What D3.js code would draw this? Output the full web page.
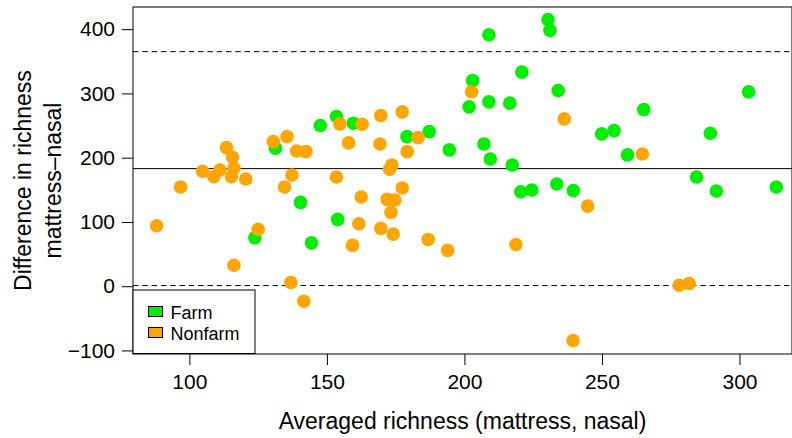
<!DOCTYPE html>
<html>
<head>
<meta charset="utf-8">
<script src="https://cdn.jsdelivr.net/npm/d3@7"></script>
<style>
  body { margin: 0; background: #fff; }
  svg { display: block; font-family: "Liberation Sans", Arial, sans-serif; }
</style>
</head>
<body>
<svg id="chart" width="792" height="438"></svg>
<script>
// values
const farmX = [230.4, 231.1, 208.9, 220.9, 203.0, 234.1, 201.7, 208.9, 216.5, 159.6, 153.5, 147.6, 131.3, 179.1, 187.2, 194.5, 207.1, 209.4, 217.4, 220.5, 224.5, 233.6, 239.6, 249.9, 254.4, 265.2, 259.3, 289.4, 303.3, 284.4, 291.6, 313.4, 140.4, 153.9, 123.8, 144.4];
const farmY = [414.8, 398.1, 391.4, 333.2, 320.1, 304.5, 279.1, 286.9, 284.9, 253.7, 264.0, 250.0, 214.7, 232.8, 240.6, 212.1, 221.4, 198.0, 188.7, 147.0, 149.7, 159.0, 148.9, 237.0, 242.2, 274.9, 204.3, 238.1, 302.5, 170.0, 148.1, 154.4, 130.5, 104.0, 75.3, 67.5];
const nonfarmX = [113.5, 115.7, 104.8, 111.1, 108.9, 116.2, 115.3, 120.5, 96.8, 130.5, 135.5, 139.0, 142.4, 137.3, 134.6, 154.7, 162.8, 157.9, 153.5, 202.6, 236.3, 169.6, 177.4, 169.3, 183.2, 179.2, 173.6, 172.8, 177.4, 264.7, 88.1, 125.0, 116.2, 136.9, 141.6, 159.3, 161.6, 162.5, 171.9, 174.7, 173.3, 169.6, 174.1, 186.8, 193.9, 218.7, 239.5, 244.8, 278.1, 281.7];
const nonfarmY = [215.7, 200.7, 178.9, 180.9, 170.4, 183.5, 170.4, 166.8, 154.4, 225.0, 232.8, 210.5, 209.4, 173.1, 154.4, 252.6, 252.1, 223.0, 170.0, 302.5, 260.4, 265.6, 271.3, 221.4, 231.2, 209.4, 188.7, 182.0, 152.8, 205.8, 94.0, 88.4, 32.7, 5.8, -23.4, 63.5, 97.1, 138.8, 135.2, 134.1, 114.9, 90.0, 81.1, 72.8, 55.7, 65.0, -84.5, 124.7, 1.6, 4.2];

const meanDiff = 183;
const limits = [1, 365];

const xTicks = [100, 150, 200, 250, 300];
const yTicks = [-100, 0, 100, 200, 300, 400];

const groups = ["Farm", "Nonfarm"];
const groupColors = ["#00ee00", "#ffa500"];

const svg = d3.select("#chart");
const plot = {left: 133, top: 7, right: 792, bottom: 354};

const x = d3.scaleLinear().domain([79.5, 319.1]).range([plot.left, plot.right]);
const y = d3.scaleLinear().domain([-105.5, 434.5]).range([plot.bottom, plot.top]);

// reference lines
svg.append("line")
    .attr("x1", plot.left).attr("x2", plot.right)
    .attr("y1", y(meanDiff)).attr("y2", y(meanDiff))
    .attr("stroke", "#000").attr("stroke-width", 1);

svg.selectAll(".limit")
    .data(limits)
    .join("line")
    .attr("class", "limit")
    .attr("x1", plot.left).attr("x2", plot.right)
    .attr("y1", d => y(d)).attr("y2", d => y(d))
    .attr("stroke", "#000").attr("stroke-width", 1)
    .attr("stroke-dasharray", "5.5,3.8");

// points: farm first, nonfarm drawn on top
const farm = farmX.map((v, i) => ({x: v, y: farmY[i]}));
const nonfarm = nonfarmX.map((v, i) => ({x: v, y: nonfarmY[i]}));

svg.append("g").selectAll("circle")
    .data(farm)
    .join("circle")
    .attr("cx", d => x(d.x))
    .attr("cy", d => y(d.y))
    .attr("r", 6.8)
    .attr("fill", groupColors[0]);

svg.append("g").selectAll("circle")
    .data(nonfarm)
    .join("circle")
    .attr("cx", d => x(d.x))
    .attr("cy", d => y(d.y))
    .attr("r", 6.8)
    .attr("fill", groupColors[1]);

// axes
const xAxis = svg.append("g")
    .attr("transform", `translate(0,${plot.bottom})`)
    .call(d3.axisBottom(x).tickValues(xTicks).tickSize(11).tickPadding(9).tickSizeOuter(0));
xAxis.select(".domain").remove();

const yAxis = svg.append("g")
    .attr("transform", `translate(${plot.left},0)`)
    .call(d3.axisLeft(y).tickValues(yTicks).tickSize(11).tickPadding(7).tickSizeOuter(0)
        .tickFormat(d => d < 0 ? "\u2212" + Math.abs(d) : d));
yAxis.select(".domain").remove();

svg.selectAll(".tick text").attr("fill", "#000").style("font-size", "21px");
svg.selectAll(".tick line").attr("stroke", "#000");

// plot box
svg.append("rect")
    .attr("x", plot.left).attr("y", plot.top)
    .attr("width", plot.right - plot.left)
    .attr("height", plot.bottom - plot.top)
    .attr("fill", "none").attr("stroke", "#000").attr("stroke-width", 1);

// axis titles
svg.append("text")
    .attr("x", (plot.left + plot.right) / 2)
    .attr("y", 429)
    .attr("text-anchor", "middle")
    .style("font-size", "23px")
    .text("Averaged richness (mattress, nasal)");

const midY = (plot.top + plot.bottom) / 2;
svg.append("text")
    .attr("transform", `translate(31,${midY}) rotate(-90)`)
    .attr("text-anchor", "middle")
    .style("font-size", "23px")
    .text("Difference in richness");
svg.append("text")
    .attr("transform", `translate(61,${midY}) rotate(-90)`)
    .attr("text-anchor", "middle")
    .style("font-size", "23px")
    .text("mattress\u2013nasal");

// legend
const legend = svg.append("g").attr("transform", "translate(133,290)");
legend.append("rect")
    .attr("width", 122).attr("height", 63.5)
    .attr("fill", "#fff").attr("stroke", "#000").attr("stroke-width", 1);

const item = legend.selectAll(".item")
    .data(groups)
    .join("g")
    .attr("class", "item")
    .attr("transform", (d, i) => `translate(0,${i * 21})`);

item.append("rect")
    .attr("x", 15.5).attr("y", 16.5)
    .attr("width", 14).attr("height", 10)
    .attr("fill", (d, i) => groupColors[i])
    .attr("stroke", "#000").attr("stroke-width", 1);

item.append("text")
    .attr("x", 37.5).attr("y", 29)
    .style("font-size", "18px")
    .text(d => d);
</script>
</body>
</html>
